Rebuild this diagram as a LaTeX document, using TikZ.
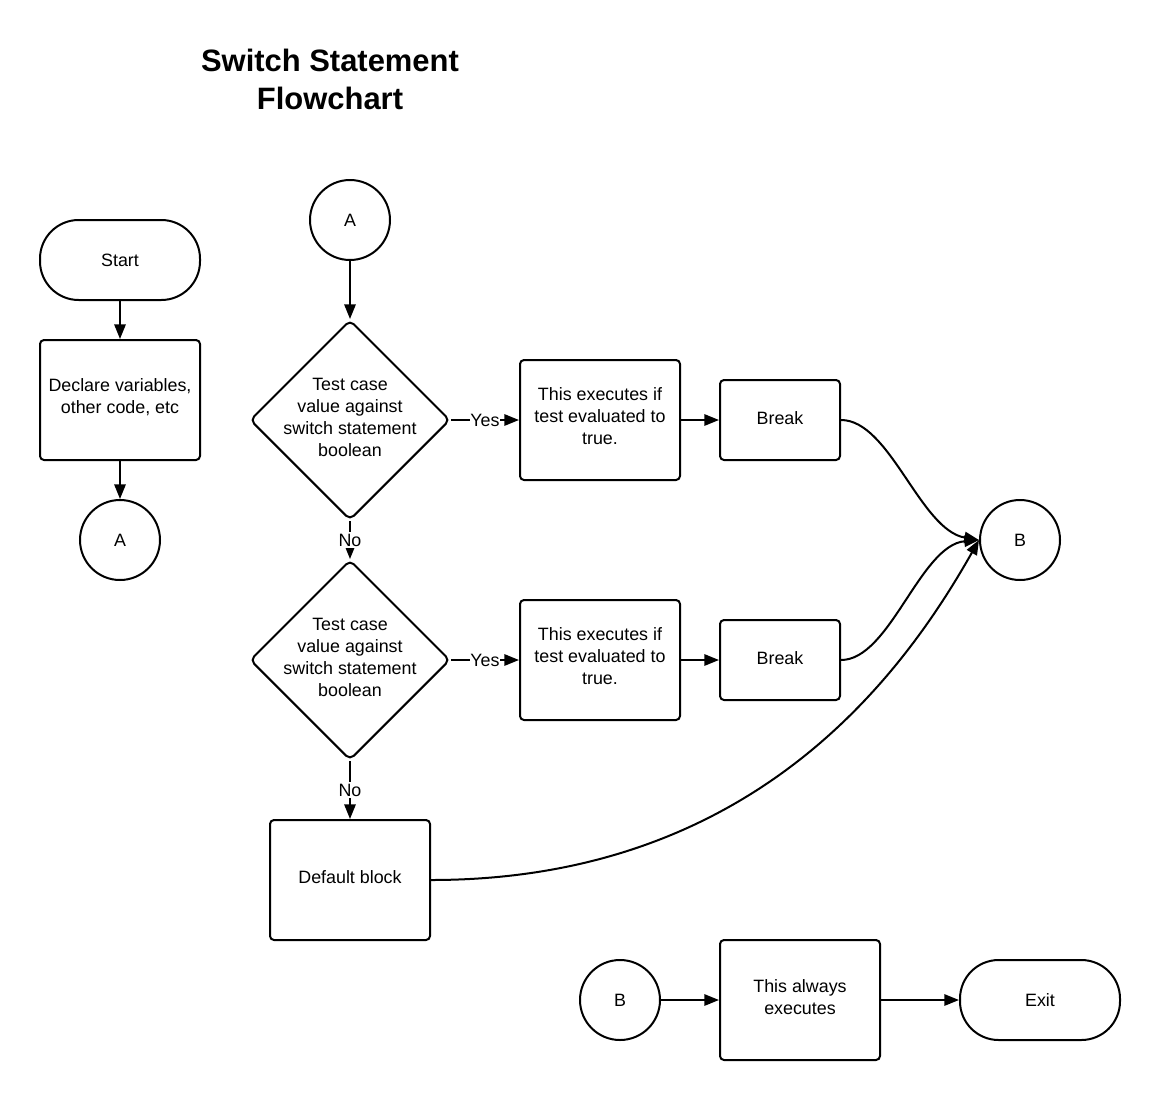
\documentclass[tikz,border=0pt]{standalone}
\usepackage{fontspec}
\setmainfont{Liberation Sans}
\usetikzlibrary{shapes.geometric,arrows.meta}
\begin{document}
\begin{tikzpicture}[x=0.75pt,y=-0.75pt,
  every node/.style={font=\fontsize{13.4}{16.5}\selectfont, align=center},
  base/.style={draw, line width=1.5pt},
  box/.style={base, rectangle, rounded corners=3pt, minimum width=120pt, minimum height=90pt, inner sep=0pt},
  brk/.style={box, minimum width=90pt, minimum height=60pt},
  term/.style={base, rectangle, rounded corners=29pt, minimum width=120pt, minimum height=60pt, inner sep=0pt},
  conn/.style={base, circle, minimum size=60pt, inner sep=0pt},
  dia/.style={base, diamond, minimum width=150pt, minimum height=150pt, rounded corners=4pt, inner sep=0pt},
  txt/.style={inner sep=0pt},
  arr/.style={line width=1.5pt, -{Triangle[length=11pt,width=8.5pt]}},
  lab/.style={fill=white, inner xsep=0.5pt, inner ysep=1pt}
]
\useasboundingbox[fill=white] (0,0) rectangle (1160,1100);

\node[font=\fontsize{23.2}{28.5}\selectfont\bfseries] (title) at (330,79) {Switch Statement\\Flowchart};

% left column
\node[term] (start) at (120,260) {Start};
\node[box] (decl) at (120,400) {};
\node[txt] (declt) at (120,397) {Declare variables,\\other code, etc};
\node[conn] (A1) at (120,540) {A};

% main column
\node[conn] (A2) at (350,220) {A};
\node[dia] (d1) at (350,420) {};
\node[txt] (d1t) at (350,417) {Test case\\value against\\switch statement\\boolean};
\node[dia] (d2) at (350,660) {};
\node[txt] (d2t) at (350,657) {Test case\\value against\\switch statement\\boolean};
\node[box] (def) at (350,880) {};
\node[txt] (deft) at (350,877) {Default block};

\node[box] (ex1) at (600,420) {};
\node[txt] (ex1t) at (600,416) {This executes if\\test evaluated to\\true.};
\node[brk] (br1) at (780,420) {};
\node[txt] (br1t) at (780,418) {Break};
\node[box] (ex2) at (600,660) {};
\node[txt] (ex2t) at (600,656) {This executes if\\test evaluated to\\true.};
\node[brk] (br2) at (780,660) {};
\node[txt] (br2t) at (780,658) {Break};

\node[conn] (B1) at (1020,540) {B};

% bottom row
\node[conn] (B2) at (620,1000) {B};
\node[box] (always) at (800,1000) {};
\node[txt] (alwayst) at (800,997) {This always\\executes};
\node[term] (exit) at (1040,1000) {Exit};

% connectors
\draw[arr] (start) -- (decl);
\draw[arr] (decl) -- (A1);
\draw[arr] (A2) -- (d1.north);
\draw[arr] (d1.east) -- node[lab] {Yes} (ex1.west);
\draw[arr] (d1.south) -- node[lab] {No} (d2.north);
\draw[arr] (d2.east) -- node[lab] {Yes} (ex2.west);
\draw[arr] (d2.south) -- node[lab] {No} (def.north);
\draw[arr] (ex1) -- (br1);
\draw[arr] (ex2) -- (br2);
\draw[arr] (br1.east) .. controls (890,420) and (920,530) .. (B1.west);
\draw[arr] (br2.east) .. controls (890,660) and (920,545) .. (B1.west);
\draw[arr] (def.east) .. controls (750,880) and (900,680) .. (B1.west);
\draw[arr] (B2) -- (always);
\draw[arr] (always) -- (exit);
\end{tikzpicture}
\end{document}
